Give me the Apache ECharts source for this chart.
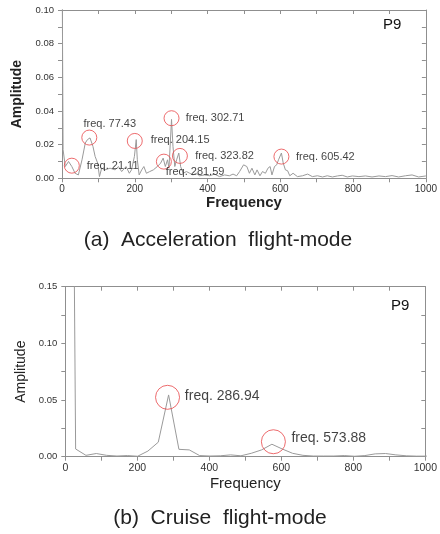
<!DOCTYPE html>
<html>
<head>
<meta charset="utf-8">
<script src="https://cdn.jsdelivr.net/npm/echarts@6/dist/echarts.min.js"></script>
<style>
html,body{margin:0;padding:0;background:#fff;}
#c{width:440px;height:534px;}
</style>
</head>
<body>
<div id="c"></div>
<script>
// ---- (a) Acceleration flight-mode ----
const accFreq = [0,3,9,18,27,36,45,55,64,70,77,85,91,98,103,109,118,132,146,155,164,176,185,191,199,204,207,212,219,225,232,241,251,262,271,278,284,290,294,301,305,310,315,321,326,333,342,351,360,369,378,392,406,419,433,447,460,470,480,488,499,508,515,522,530,536,544,551,559,566,572,577,584,590,595,603,608,614,620,626,635,647,661,675,688,702,716,729,743,757,770,784,798,816,834,852,871,889,907,925,944,962,980,1000];
const accAmp = [0.14,0.017,0.007,0.010,0.007,0.003,0.002,0.011,0.021,0.023,0.024,0.019,0.013,0.009,0.001,0.006,0.005,0.006,0.005,0.007,0.004,0.007,0.003,0.005,0.013,0.023,0.011,0.002,0.005,0.007,0.003,0.004,0.005,0.007,0.009,0.012,0.007,0.011,0.006,0.035,0.019,0.007,0.011,0.015,0.007,0.003,0.004,0.003,0.002,0.003,0.0015,0.002,0.0015,0.0025,0.001,0.002,0.0015,0.0025,0.0015,0.004,0.008,0.007,0.003,0.006,0.002,0.005,0.0015,0.004,0.003,0.006,0.007,0.002,0.007,0.008,0.011,0.015,0.009,0.005,0.0045,0.0015,0.003,0.001,0.0015,0.0025,0.001,0.0015,0.0008,0.0015,0.0008,0.0014,0.0018,0.0008,0.0014,0.001,0.0014,0.0008,0.0014,0.001,0.0016,0.0008,0.0015,0.002,0.0008,0.0014];
const accCircleFreq = [27, 75, 200, 280, 301, 324, 603];
const accCircleAmp = [0.0075, 0.0242, 0.0222, 0.0099, 0.0357, 0.0133, 0.0129];
const accLabels = ['freq. 21.11','freq. 77.43','freq. 204.15','freq. 281.59','freq. 302.71','freq. 323.82','freq. 605.42'];
const accLabelFreq = [68, 59, 244, 285, 340, 366, 643];
const accLabelAmp = [0.0075, 0.0323, 0.0228, 0.0036, 0.0357, 0.0133, 0.0129];

// ---- (b) Cruise flight-mode ----
const cruFreq = [0,28.69,57.39,86.08,114.78,143.47,172.16,200.86,229.55,258.25,286.94,315.63,344.33,373.02,401.72,430.41,459.10,487.80,516.49,545.19,573.88,602.57,631.27,659.96,688.66,717.35,746.04,774.74,803.43,832.13,860.82,889.51,918.21,946.90,975.60,1004.29];
const cruAmp = [1.2,0.0068,0.0012,0.0028,0.0012,0.0006,0.0010,0.0004,0.0050,0.0128,0.0545,0.0065,0.0060,0.0010,0.0006,0.0008,0.0016,0.0008,0.0030,0.0060,0.0110,0.0068,0.0030,0.0012,0.0006,0.0006,0.0006,0.0010,0.0004,0.0010,0.0025,0.0028,0.0016,0.0008,0.0005,0.0005];
const cruCircleFreq = [284, 578];
const cruCircleAmp = [0.0524, 0.0132];
const cruLabels = ['freq. 286.94','freq. 573.88'];
const cruLabelFreq = [332, 628];
const cruLabelAmp = [0.0535, 0.0162];

const xTicks = [0, 1000, 200];   // min, max, interval
const yTicksA = [0, 0.10, 0.02];
const yTicksB = [0, 0.15, 0.05];

const FONT = 'Liberation Sans, Arial, sans-serif';
const frame = '#8f8f8f';
const lineCol = '#9a9a9a';
const red = '#e8474a';

function zip(a, b) { return a.map((v, i) => [v, b[i]]); }

function xAx(grid, pos, labelSize) {
  const main = pos === 'bottom';
  return {
    type: 'value', gridIndex: grid, position: pos,
    min: xTicks[0], max: xTicks[1], interval: xTicks[2],
    axisLine: { show: true, onZero: false, lineStyle: { color: frame, width: 1 } },
    axisTick: { show: true, inside: !main, length: 4, lineStyle: { color: frame } },
    minorTick: { show: true, splitNumber: 2, length: 4, lineStyle: { color: frame } },
    axisLabel: { show: main, color: '#333', fontSize: labelSize, fontFamily: FONT, margin: 6,
      formatter: v => String(v) },
    splitLine: { show: false }
  };
}
function yAx(grid, pos, t, labelSize) {
  const main = pos === 'left';
  return {
    type: 'value', gridIndex: grid, position: pos,
    min: t[0], max: t[1], interval: t[2],
    axisLine: { show: true, onZero: false, lineStyle: { color: frame, width: 1 } },
    axisTick: { show: true, inside: !main, length: 4, lineStyle: { color: frame } },
    minorTick: { show: true, splitNumber: 2, length: 4, lineStyle: { color: frame } },
    axisLabel: { show: main, color: '#333', fontSize: labelSize, fontFamily: FONT, margin: 8,
      formatter: v => v.toFixed(2) },
    splitLine: { show: false }
  };
}

const xA = [xAx(0, 'bottom', 10), xAx(0, 'top', 10), xAx(1, 'bottom', 10.5), xAx(1, 'top', 10.5)];
xA[0].name = 'Frequency'; xA[0].nameLocation = 'middle'; xA[0].nameGap = 16;
xA[0].nameTextStyle = { fontSize: 15, fontWeight: 'bold', color: '#222', fontFamily: FONT, verticalAlign: 'top' };
xA[2].name = 'Frequency'; xA[2].nameLocation = 'middle'; xA[2].nameGap = 20;
xA[2].nameTextStyle = { fontSize: 15, color: '#222', fontFamily: FONT, verticalAlign: 'top' };

const yA = [yAx(0, 'left', yTicksA, 9.5), yAx(0, 'right', yTicksA, 9.5), yAx(1, 'left', yTicksB, 9.5), yAx(1, 'right', yTicksB, 9.5)];
yA[0].name = 'Amplitude'; yA[0].nameLocation = 'middle'; yA[0].nameGap = 37;
yA[0].nameTextStyle = { fontSize: 14, fontWeight: 'bold', color: '#222', fontFamily: FONT };
yA[2].name = 'Amplitude'; yA[2].nameLocation = 'middle'; yA[2].nameGap = 36;
yA[2].nameTextStyle = { fontSize: 14, color: '#222', fontFamily: FONT };

function circles(xi, yi, fr, am, size) {
  return {
    type: 'scatter', xAxisIndex: xi, yAxisIndex: yi, symbol: 'circle', symbolSize: size,
    itemStyle: { color: 'rgba(0,0,0,0)', borderColor: red, borderWidth: 1 },
    data: zip(fr, am), silent: true, z: 5, clip: false
  };
}
function labels(xi, yi, fr, am, txt, size) {
  return {
    type: 'scatter', xAxisIndex: xi, yAxisIndex: yi, symbolSize: 0,
    data: fr.map((f, i) => ({ value: [f, am[i]], name: txt[i] })),
    label: { show: true, position: 'inside', formatter: p => p.name, align: 'left', verticalAlign: 'middle',
      color: '#111', fontSize: size, fontFamily: FONT },
    silent: true, z: 6, clip: false
  };
}

const option = {
  animation: false,
  backgroundColor: '#fff',
  grid: [
    { left: 62, top: 10, width: 365.6, height: 168.3 },
    { left: 65.3, top: 286.7, width: 363, height: 170 }
  ],
  xAxis: xA,
  yAxis: yA,
  series: [
    { type: 'line', xAxisIndex: 0, yAxisIndex: 0, data: zip(accFreq, accAmp), showSymbol: false,
      lineStyle: { color: lineCol, width: 1 }, clip: true, z: 3 },
    circles(0, 0, accCircleFreq, accCircleAmp, 15),
    labels(0, 0, accLabelFreq, accLabelAmp, accLabels, 11),
    { type: 'line', xAxisIndex: 2, yAxisIndex: 2, data: zip(cruFreq, cruAmp), showSymbol: false,
      lineStyle: { color: lineCol, width: 1 }, clip: true, z: 3 },
    circles(2, 2, cruCircleFreq, cruCircleAmp, 24),
    labels(2, 2, cruLabelFreq, cruLabelAmp, cruLabels, 14)
  ],
  graphic: [
    { type: 'text', left: 383, top: 17, style: { text: 'P9', fontSize: 15, fontFamily: FONT, fill: '#111' } },
    { type: 'text', left: 391, top: 298, style: { text: 'P9', fontSize: 15, fontFamily: FONT, fill: '#111' } },
    { type: 'text', x: 218, y: 240, style: { text: '(a)  Acceleration  flight-mode', fontSize: 21, fontFamily: FONT, fill: '#222', align: 'center', verticalAlign: 'middle' } },
    { type: 'text', x: 220, y: 518, style: { text: '(b)  Cruise  flight-mode', fontSize: 21, fontFamily: FONT, fill: '#222', align: 'center', verticalAlign: 'middle' } }
  ]
};

const chart = echarts.init(document.getElementById('c'), null, { renderer: 'canvas' });
chart.setOption(option);
</script>
</body>
</html>
